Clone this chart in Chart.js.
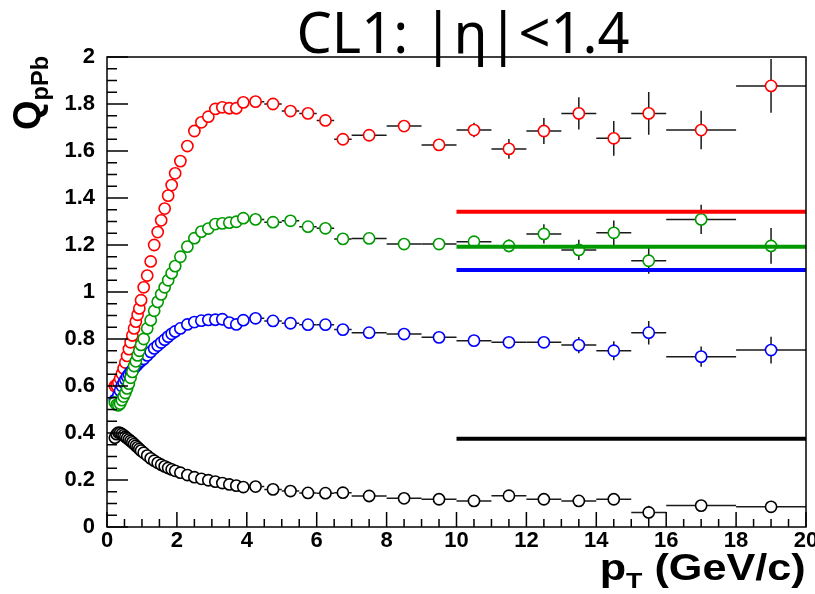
<!DOCTYPE html>
<html>
<head>
<meta charset="utf-8">
<script src="https://cdn.jsdelivr.net/npm/chart.js@4.4.1/dist/chart.umd.min.js"></script>
<style>
  body { margin: 0; background: #fff; }
  #wrap { position: relative; width: 815px; height: 594px; overflow: hidden; }
  #plot { position: absolute; left: 0; top: 0; }
  .title {
    position: absolute; left: 463px; top: 3px; transform: translateX(-50%);
    font-family: "Noto Sans", sans-serif; font-size: 56px; line-height: 1; white-space: nowrap; color: #000;
  }
  .xtitle {
    position: absolute; right: 9px; top: 550px; transform: scaleX(1.2); transform-origin: right top;
    font-family: "Liberation Sans", Arial, sans-serif; font-weight: bold; font-size: 36px; line-height: 1; white-space: nowrap;
  }
  .ytitle {
    position: absolute; left: 8px; top: 130px; transform: rotate(-90deg); transform-origin: left top;
    font-family: "Liberation Sans", Arial, sans-serif; font-weight: bold; font-size: 38px; line-height: 1; white-space: nowrap;
  }
  sub { font-size: 0.62em; vertical-align: -0.35em; }
</style>
</head>
<body>
<div id="wrap">
  <canvas id="plot" width="815" height="594"></canvas>
  <div class="title">CL1: |η|&lt;1.4</div>
  <div class="xtitle">p<sub>T</sub> (GeV/c)</div>
  <div class="ytitle">Q<sub>pPb</sub></div>
</div>
<script>
// pT ビン中心と半幅
const ptCenter = [
  0.225, 0.275, 0.325, 0.375, 0.425, 0.475, 0.525, 0.575, 0.625, 0.675, 0.725, 0.775, 0.825, 0.875, 0.925, 0.975,
  1.05, 1.15, 1.25, 1.35, 1.45, 1.55, 1.65, 1.75, 1.85, 1.95,
  2.1, 2.3, 2.5, 2.7, 2.9, 3.1, 3.3, 3.5, 3.7, 3.9,
  4.25, 4.75, 5.25, 5.75, 6.25, 6.75,
  7.5, 8.5, 9.5, 10.5, 11.5, 12.5, 13.5, 14.5,
  15.5, 17, 19
];
const ptHalfWidth = [
  0.025, 0.025, 0.025, 0.025, 0.025, 0.025, 0.025, 0.025, 0.025, 0.025, 0.025, 0.025, 0.025, 0.025, 0.025, 0.025,
  0.05, 0.05, 0.05, 0.05, 0.05, 0.05, 0.05, 0.05, 0.05, 0.05,
  0.1, 0.1, 0.1, 0.1, 0.1, 0.1, 0.1, 0.1, 0.1, 0.1,
  0.25, 0.25, 0.25, 0.25, 0.25, 0.25,
  0.5, 0.5, 0.5, 0.5, 0.5, 0.5, 0.5, 0.5,
  0.5, 1, 1
];

// Q_pPb 各系列
const qRed = [
  0.600, 0.603, 0.615, 0.632, 0.652, 0.675, 0.700, 0.728, 0.757, 0.786, 0.815, 0.845, 0.874, 0.903, 0.930, 0.965,
  1.020, 1.070, 1.130, 1.200, 1.255, 1.305, 1.355, 1.410, 1.455, 1.505,
  1.557, 1.621, 1.685, 1.722, 1.746, 1.779, 1.786, 1.782, 1.782, 1.807,
  1.810, 1.800, 1.770, 1.760, 1.730, 1.650,
  1.667, 1.706, 1.626, 1.689, 1.609, 1.685, 1.760, 1.654,
  1.760, 1.689, 1.877
];
const errRed = [
  0, 0, 0, 0, 0, 0, 0, 0, 0, 0, 0, 0, 0, 0, 0, 0,
  0, 0, 0, 0, 0, 0, 0, 0, 0, 0,
  0, 0, 0, 0, 0, 0, 0, 0, 0, 0,
  0.003, 0.003, 0.004, 0.004, 0.005, 0.006,
  0.010, 0.012, 0.020, 0.031, 0.042, 0.055, 0.069, 0.074,
  0.091, 0.082, 0.114
];
const qGreen = [
  0.530, 0.520, 0.518, 0.525, 0.540, 0.555, 0.570, 0.590, 0.610, 0.635, 0.660, 0.685, 0.705, 0.730, 0.750, 0.775,
  0.800, 0.845, 0.880, 0.920, 0.958, 0.990, 1.020, 1.050, 1.080, 1.110,
  1.150, 1.193, 1.229, 1.257, 1.270, 1.289, 1.292, 1.295, 1.299, 1.314,
  1.309, 1.297, 1.303, 1.278, 1.271, 1.226,
  1.228, 1.204, 1.204, 1.214, 1.196, 1.247, 1.179, 1.252,
  1.133, 1.309, 1.196
];
const errGreen = [
  0, 0, 0, 0, 0, 0, 0, 0, 0, 0, 0, 0, 0, 0, 0, 0,
  0, 0, 0, 0, 0, 0, 0, 0, 0, 0,
  0, 0, 0, 0, 0, 0, 0, 0, 0, 0,
  0.002, 0.002, 0.003, 0.003, 0.004, 0.004,
  0.005, 0.008, 0.010, 0.012, 0.027, 0.041, 0.043, 0.052,
  0.055, 0.062, 0.076
];
const qBlue = [
  0.540, 0.545, 0.560, 0.580, 0.600, 0.615, 0.628, 0.640, 0.650, 0.660, 0.668, 0.676, 0.684, 0.692, 0.700, 0.707,
  0.715, 0.730, 0.745, 0.760, 0.772, 0.785, 0.797, 0.810, 0.822, 0.832,
  0.845, 0.862, 0.872, 0.878, 0.881, 0.882, 0.884, 0.870, 0.862, 0.880,
  0.888, 0.877, 0.867, 0.861, 0.861, 0.840,
  0.827, 0.821, 0.807, 0.793, 0.786, 0.786, 0.774, 0.750,
  0.827, 0.725, 0.753
];
const errBlue = [
  0, 0, 0, 0, 0, 0, 0, 0, 0, 0, 0, 0, 0, 0, 0, 0,
  0, 0, 0, 0, 0, 0, 0, 0, 0, 0,
  0, 0, 0, 0, 0, 0, 0, 0, 0, 0,
  0.002, 0.002, 0.002, 0.003, 0.003, 0.003,
  0.004, 0.005, 0.006, 0.008, 0.010, 0.015, 0.035, 0.040,
  0.050, 0.043, 0.057
];
const qBlack = [
  0.380, 0.395, 0.402, 0.400, 0.396, 0.390, 0.384, 0.378, 0.372, 0.366, 0.360, 0.353, 0.346, 0.339, 0.332, 0.325,
  0.316, 0.304, 0.292, 0.282, 0.273, 0.265, 0.258, 0.251, 0.245, 0.239,
  0.231, 0.221, 0.212, 0.205, 0.199, 0.193, 0.187, 0.181, 0.176, 0.170,
  0.172, 0.160, 0.153, 0.145, 0.144, 0.146,
  0.132, 0.122, 0.118, 0.111, 0.133, 0.118, 0.111, 0.118,
  0.062, 0.091, 0.086
];
const errBlack = [
  0, 0, 0, 0, 0, 0, 0, 0, 0, 0, 0, 0, 0, 0, 0, 0,
  0, 0, 0, 0, 0, 0, 0, 0, 0, 0,
  0, 0, 0, 0, 0, 0, 0, 0, 0, 0,
  0.001, 0.001, 0.001, 0.001, 0.002, 0.002,
  0.002, 0.003, 0.004, 0.005, 0.006, 0.007, 0.009, 0.015,
  0.028, 0.012, 0.021
];

// 高 pT の水平基準線
const refLineX = [10, 20];
const refRed = 1.342;
const refGreen = 1.193;
const refBlue = 1.094;
const refBlack = 0.376;

const RED = '#ff0000';
const GREEN = '#009900';
const BLUE = '#0000ff';
const BLACK = '#000000';

function toPoints(ys) {
  return ptCenter.map((x, i) => ({ x: x, y: ys[i] }));
}

function markerSet(label, ys, errs, color, order) {
  return {
    label: label,
    data: toPoints(ys),
    yErr: errs,
    showLine: false,
    pointStyle: 'circle',
    pointRadius: 5.6,
    pointBorderWidth: 1.6,
    pointBackgroundColor: '#ffffff',
    pointBorderColor: color,
    borderColor: color,
    order: order
  };
}

function refSet(label, level, color) {
  return {
    label: label,
    data: refLineX.map(x => ({ x: x, y: level })),
    showLine: true,
    borderColor: color,
    borderWidth: 4,
    pointRadius: 0,
    order: 0
  };
}

// 誤差棒（マーカーの下に描く）
const errorBars = {
  id: 'errorBars',
  beforeDatasetsDraw(chart) {
    const ctx = chart.ctx;
    const xs = chart.scales.x, ys = chart.scales.y;
    const area = chart.chartArea;
    ctx.save();
    ctx.beginPath();
    ctx.rect(area.left, area.top, area.right - area.left, area.bottom - area.top);
    ctx.clip();
    ctx.strokeStyle = '#1a1a1a';
    ctx.lineWidth = 1.5;
    chart.data.datasets.forEach(ds => {
      if (!ds.yErr) return;
      ds.data.forEach((p, i) => {
        const x0 = xs.getPixelForValue(p.x - ptHalfWidth[i]);
        const x1 = xs.getPixelForValue(p.x + ptHalfWidth[i]);
        const xc = xs.getPixelForValue(p.x);
        const yc = ys.getPixelForValue(p.y);
        ctx.beginPath();
        ctx.moveTo(x0, yc);
        ctx.lineTo(x1, yc);
        if (ds.yErr[i] > 0) {
          ctx.moveTo(xc, ys.getPixelForValue(p.y - ds.yErr[i]));
          ctx.lineTo(xc, ys.getPixelForValue(p.y + ds.yErr[i]));
        }
        ctx.stroke();
      });
    });
    ctx.restore();
  }
};

// ROOT 風の枠と内向き目盛
const rootFrame = {
  id: 'rootFrame',
  afterDraw(chart) {
    const ctx = chart.ctx;
    const xs = chart.scales.x, ys = chart.scales.y;
    const a = chart.chartArea;
    ctx.save();
    ctx.strokeStyle = '#000';
    ctx.lineWidth = 1.5;
    ctx.strokeRect(a.left, a.top, a.right - a.left, a.bottom - a.top);

    ctx.beginPath();
    // y 軸目盛
    const yStep = 0.2, yMinor = yStep / 4;
    ys.ticks.forEach(t => {
      const py = ys.getPixelForValue(t.value);
      ctx.moveTo(a.left, py);
      ctx.lineTo(a.left + 21, py);
      for (let k = 1; k < 4; k++) {
        const v = t.value + k * yMinor;
        if (v >= ys.max) break;
        const pm = ys.getPixelForValue(v);
        ctx.moveTo(a.left, pm);
        ctx.lineTo(a.left + 10, pm);
      }
    });
    // x 軸目盛
    const xStep = 2, xMinor = xStep / 4;
    xs.ticks.forEach(t => {
      const px = xs.getPixelForValue(t.value);
      ctx.moveTo(px, a.bottom);
      ctx.lineTo(px, a.bottom - 15);
      for (let k = 1; k < 4; k++) {
        const v = t.value + k * xMinor;
        if (v >= xs.max) break;
        const pm = xs.getPixelForValue(v);
        ctx.moveTo(pm, a.bottom);
        ctx.lineTo(pm, a.bottom - 8);
      }
    });
    ctx.stroke();
    ctx.restore();
  }
};

const tickFont = { family: '"Liberation Sans", Arial, sans-serif', weight: 'bold', size: 22 };

new Chart(document.getElementById('plot'), {
  type: 'scatter',
  data: {
    datasets: [
      refSet('ref red', refRed, RED),
      refSet('ref green', refGreen, GREEN),
      refSet('ref blue', refBlue, BLUE),
      refSet('ref black', refBlack, BLACK),
      markerSet('red', qRed, errRed, RED, 4),
      markerSet('blue', qBlue, errBlue, BLUE, 3),
      markerSet('green', qGreen, errGreen, GREEN, 2),
      markerSet('black', qBlack, errBlack, BLACK, 1)
    ]
  },
  options: {
    responsive: false,
    animation: false,
    layout: { padding: { left: 0, right: 9, top: 57, bottom: 0 } },
    plugins: { legend: { display: false }, tooltip: { enabled: false } },
    scales: {
      x: {
        type: 'linear', min: 0, max: 20,
        grid: { display: false },
        border: { display: false },
        ticks: { stepSize: 2, color: '#000', font: tickFont, padding: -7, maxRotation: 0 },
        afterFit: s => { s.height = 67; }
      },
      y: {
        type: 'linear', min: 0, max: 2,
        grid: { display: false },
        border: { display: false },
        ticks: {
          stepSize: 0.2, color: '#000', font: tickFont, padding: 4,
          callback: v => String(Number(v.toFixed(2)))
        },
        afterFit: s => { s.width = 107; }
      }
    }
  },
  plugins: [errorBars, rootFrame]
});
</script>
</body>
</html>
